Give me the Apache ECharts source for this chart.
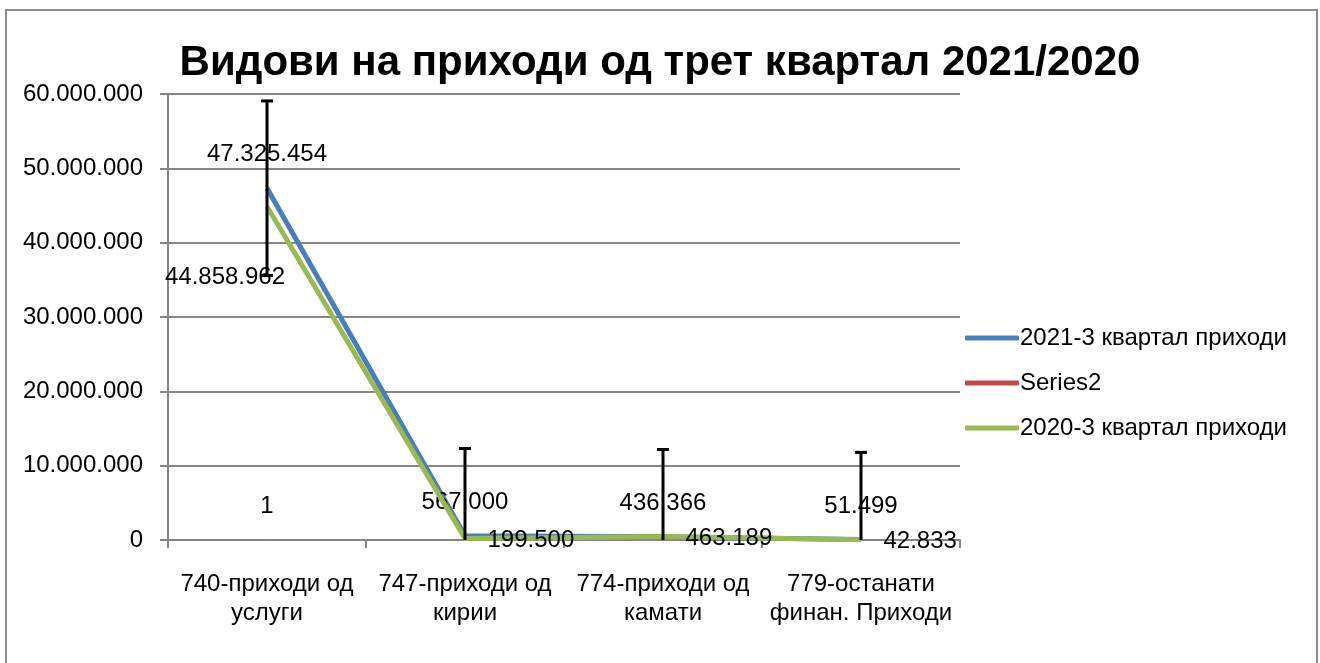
<!DOCTYPE html>
<html>
<head>
<meta charset="utf-8">
<script src="https://cdn.jsdelivr.net/npm/echarts@6/dist/echarts.min.js"></script>
<style>
html,body{margin:0;padding:0;background:#fff;}
#chart{width:1320px;height:663px;}
</style>
</head>
<body>
<div id="chart"></div>
<script>
// ---- data ----
const titleText = 'Видови на приходи од трет квартал 2021/2020';
const categories = ['740-приходи од\nуслуги', '747-приходи од\nкирии', '774-приходи од\nкамати', '779-останати\nфинан. Приходи'];
const seriesNames = ['2021-3 квартал приходи', 'Series2', '2020-3 квартал приходи'];
const values2021 = [47325454, 567000, 436366, 51499];
const valuesSeries2 = [1, null, null, null];
const values2020 = [44858962, 199500, 463189, 42833];
const errorAmount2021 = [11740000, 11740000, 11740000, 11740000];
const yTicks = [0, 10000000, 20000000, 30000000, 40000000, 50000000, 60000000];

const FONT = 'Liberation Sans';
const fmt = v => String(Math.round(v)).replace(/\B(?=(\d{3})+(?!\d))/g, '.');

const chart = echarts.init(document.getElementById('chart'));

const errData = values2021.map((v, i) => [i, v, errorAmount2021[i]]);

const data2020 = values2020.map((v, i) => i === 0
  ? { value: v, label: { position: 'bottom', distance: 5, offset: [-42, 53] } }
  : v);

const option = {
  animation: false,
  backgroundColor: '#ffffff',
  textStyle: { fontFamily: FONT },
  title: {
    text: titleText,
    left: 'center',
    top: 37,
    textStyle: { fontFamily: FONT, fontSize: 42, fontWeight: 'bold', color: '#000' }
  },
  graphic: [{
    type: 'rect',
    shape: { x: 6, y: 10, width: 1311, height: 700 },
    style: { fill: 'none', stroke: '#8c8c8c', lineWidth: 2 },
    silent: true, z: -10
  }],
  legend: {
    orient: 'vertical',
    left: 960,
    top: 321,
    itemGap: 21,
    itemWidth: 54,
    itemHeight: 5,
    icon: 'roundRect',
    data: seriesNames,
    textStyle: { fontFamily: FONT, fontSize: 24, color: '#000', padding: [0, 0, 0, -4] }
  },
  grid: { left: 168, right: 360, top: 94, bottom: 123, containLabel: false },
  xAxis: {
    type: 'category',
    data: categories,
    boundaryGap: true,
    axisLine: { show: true, lineStyle: { color: '#868686', width: 2 } },
    axisTick: { show: true, length: 8, interval: 0, lineStyle: { color: '#868686', width: 2 } },
    axisLabel: { interval: 0, margin: 30, fontFamily: FONT, fontSize: 24, color: '#000', lineHeight: 29, align: 'center' },
    splitLine: { show: false }
  },
  yAxis: {
    type: 'value',
    min: yTicks[0],
    max: yTicks[yTicks.length - 1],
    interval: yTicks[1] - yTicks[0],
    axisLine: { show: true, lineStyle: { color: '#868686', width: 2 } },
    axisTick: { show: true, length: 8, lineStyle: { color: '#868686', width: 2 } },
    axisLabel: { margin: 25, fontFamily: FONT, fontSize: 24, color: '#000', formatter: v => fmt(v) },
    splitLine: { show: true, lineStyle: { color: '#868686', width: 2 } }
  },
  series: [
    {
      name: seriesNames[0],
      type: 'line',
      data: values2021,
      symbol: 'circle', symbolSize: 1, showSymbol: true,
      itemStyle: { color: '#4A7EBB' },
      lineStyle: { color: '#4A7EBB', width: 5 },
      label: { show: true, position: 'top', distance: 21, fontFamily: FONT, fontSize: 24, color: '#000', formatter: p => fmt(p.value) },
      z: 2
    },
    {
      name: seriesNames[1],
      type: 'line',
      data: valuesSeries2,
      symbol: 'circle', symbolSize: 1, showSymbol: true,
      itemStyle: { color: '#BE4B48' },
      lineStyle: { color: '#BE4B48', width: 5 },
      label: { show: true, position: 'top', distance: 21, fontFamily: FONT, fontSize: 24, color: '#000', formatter: p => fmt(p.value) },
      z: 3
    },
    {
      name: seriesNames[2],
      type: 'line',
      data: data2020,
      symbol: 'circle', symbolSize: 1, showSymbol: true,
      itemStyle: { color: '#98B954' },
      lineStyle: { color: '#98B954', width: 5 },
      label: { show: true, position: 'right', distance: 22, offset: [0, 2], fontFamily: FONT, fontSize: 24, color: '#000',
        formatter: p => fmt(typeof p.value === 'object' ? p.value.value : p.value) },
      z: 4
    },
    {
      type: 'custom',
      name: 'err',
      data: errData,
      z: 10,
      silent: true,
      renderItem: function (params, api) {
        const x = api.value(0), v = api.value(1), e = api.value(2);
        const lowVal = Math.max(0, v - e);
        const top = api.coord([x, v + e]);
        const bot = api.coord([x, lowVal]);
        const cap = 6;
        const children = [
          { type: 'line', shape: { x1: top[0], y1: top[1], x2: bot[0], y2: bot[1] }, style: { stroke: '#000', lineWidth: 3 } },
          { type: 'line', shape: { x1: top[0] - cap, y1: top[1], x2: top[0] + cap, y2: top[1] }, style: { stroke: '#000', lineWidth: 3 } }
        ];
        if (v - e >= 0) {
          children.push({ type: 'line', shape: { x1: bot[0] - cap, y1: bot[1], x2: bot[0] + cap, y2: bot[1] }, style: { stroke: '#000', lineWidth: 3 } });
        }
        return { type: 'group', children: children };
      }
    }
  ]
};
chart.setOption(option);
</script>
</body>
</html>
